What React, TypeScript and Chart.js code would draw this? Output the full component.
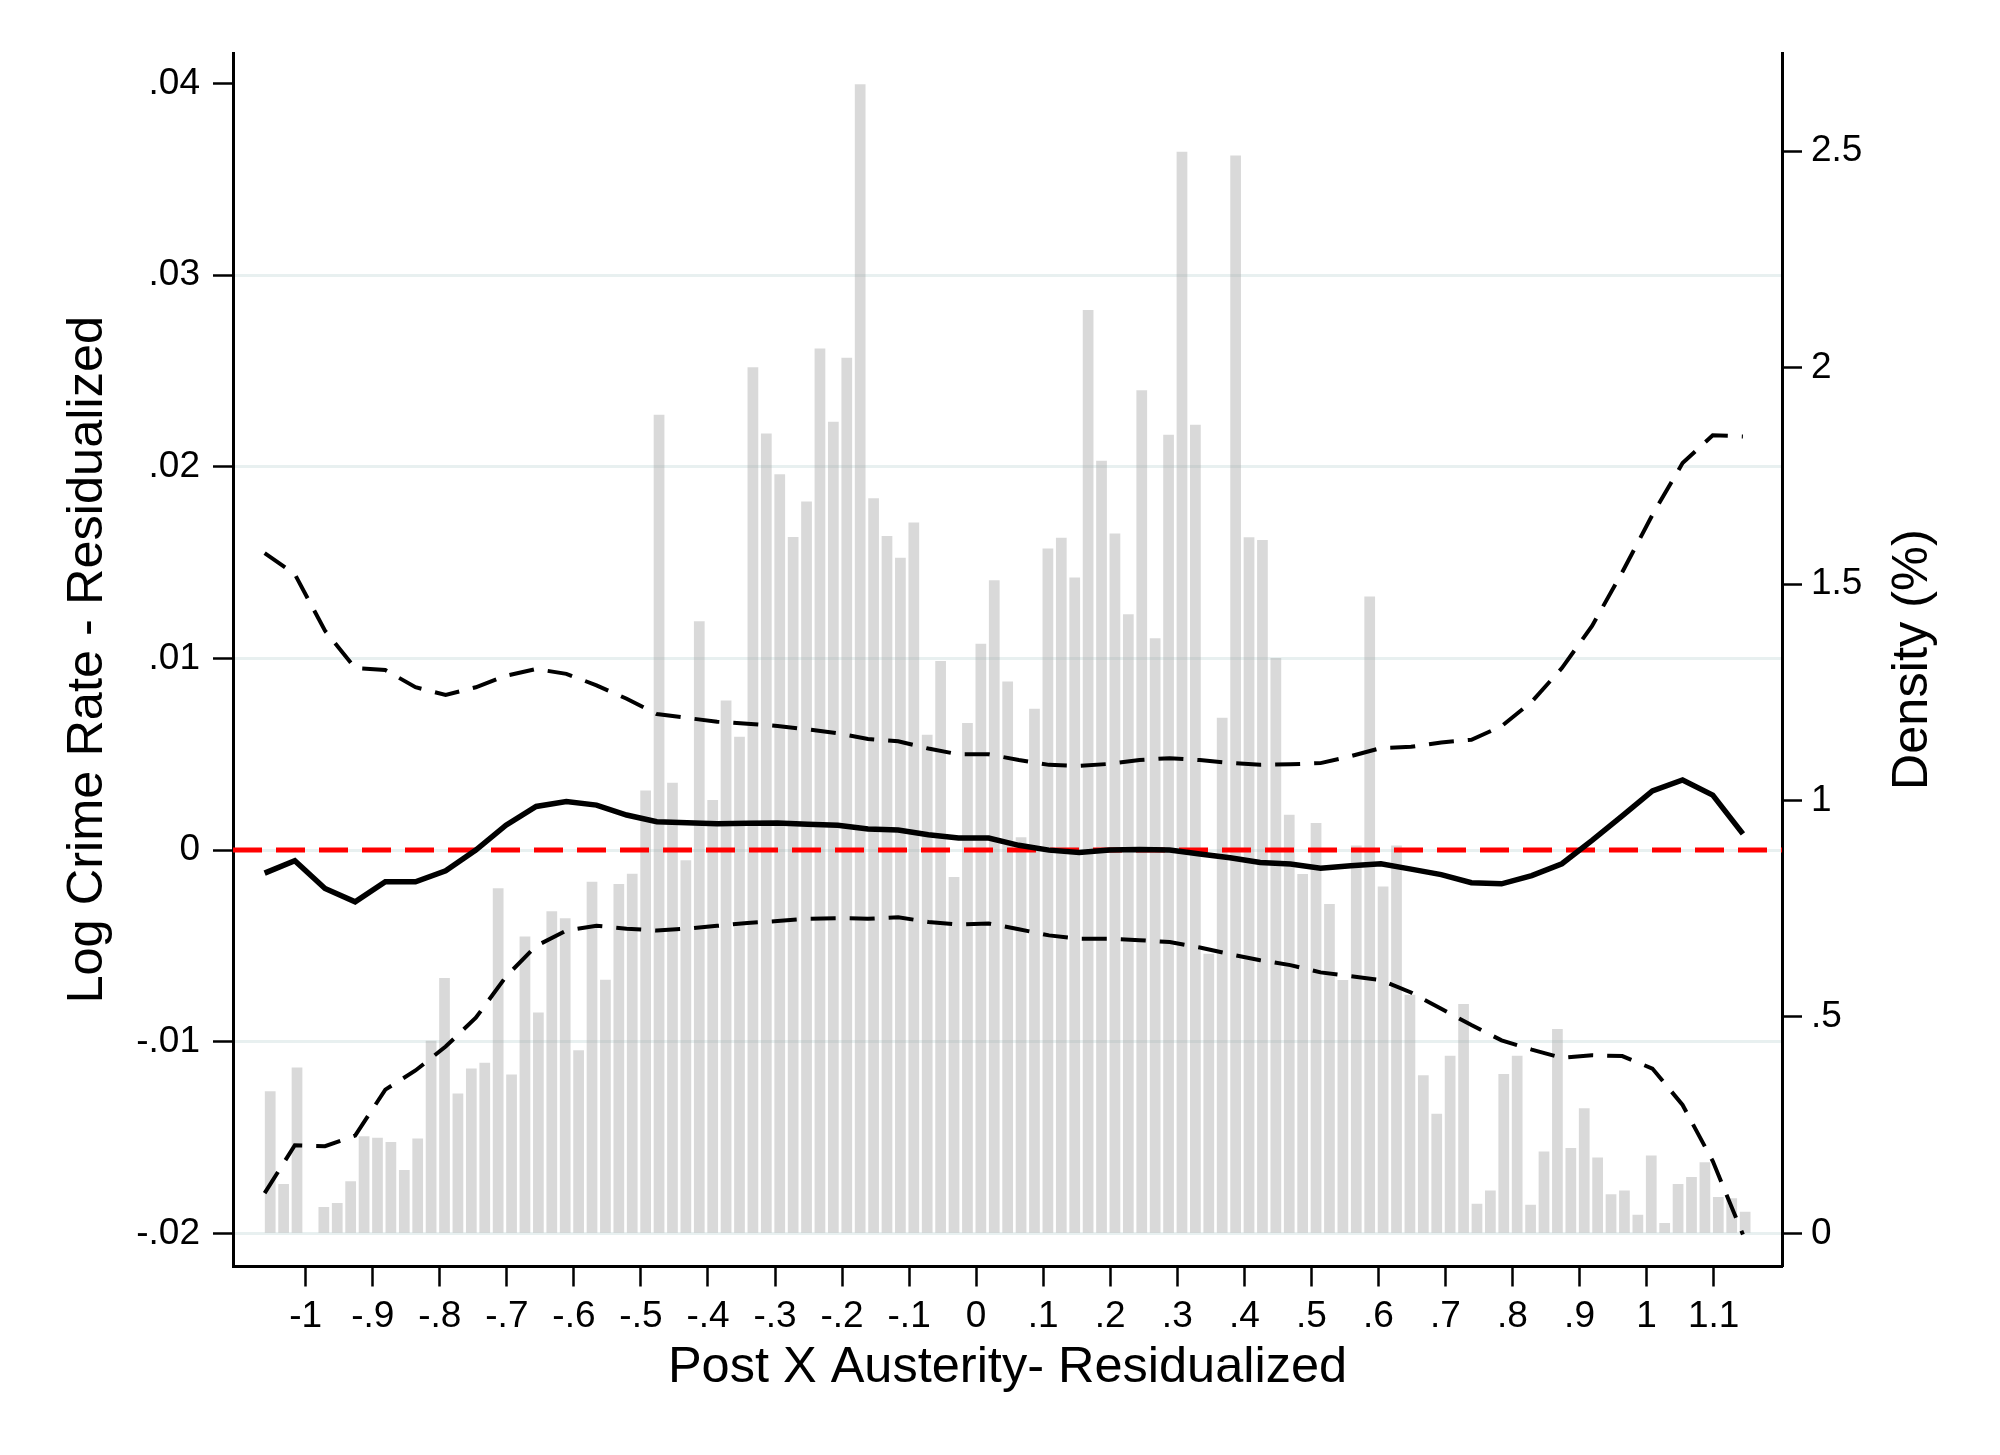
import { useEffect, useRef } from 'react';
import { Chart, registerables } from 'chart.js';

Chart.register(...registerables);

// histogram: bin midpoints start at binStart, every binWidth; heights are density (%)
const binStart = -1.053;
const binWidth = 0.02;
const densityPct = [
  0.328, 0.114, 0.383, 0, 0.061, 0.07, 0.12, 0.224, 0.221, 0.211,
  0.146, 0.219, 0.445, 0.59, 0.323, 0.381, 0.394, 0.797, 0.367, 0.686,
  0.51, 0.744, 0.728, 0.423, 0.812, 0.586, 0.807, 0.831, 1.023, 1.891,
  1.041, 0.862, 1.414, 1.001, 1.231, 1.147, 2.001, 1.848, 1.754, 1.609,
  1.691, 2.044, 1.875, 2.023, 2.655, 1.698, 1.611, 1.561, 1.642, 1.152,
  1.322, 0.823, 1.179, 1.362, 1.509, 1.275, 0.915, 1.212, 1.582, 1.607,
  1.515, 2.133, 1.785, 1.617, 1.43, 1.948, 1.375, 1.845, 2.499, 1.868,
  0.646, 1.191, 2.49, 1.608, 1.602, 1.329, 0.967, 0.83, 0.948, 0.761,
  0.585, 0.896, 1.471, 0.801, 0.896, 0.551, 0.365, 0.276, 0.41, 0.53,
  0.068, 0.099, 0.368, 0.41, 0.066, 0.189, 0.472, 0.197, 0.289, 0.175,
  0.09, 0.099, 0.043, 0.18, 0.024, 0.114, 0.13, 0.164, 0.084, 0.081,
  0.05,
];

// local polynomial fit, evaluated on a grid of 50 points
const fitStart = -1.0613;
const fitStep = 0.045;
const fitMid = [
  -0.0012, -0.00055, -0.002, -0.0027, -0.00165, -0.00165, -0.00108, 0, 0.0013, 0.00228,
  0.00253, 0.00235, 0.00183, 0.00148, 0.00143, 0.00138, 0.0014, 0.00142, 0.00135, 0.0013,
  0.0011, 0.00105, 0.0008, 0.00063, 0.00063, 0.00025, 0, -0.00013, 0, 0.00003,
  0, -0.0002, -0.0004, -0.00065, -0.00073, -0.00094, -0.00082, -0.00071, -0.00099, -0.00128,
  -0.0017, -0.00176, -0.00133, -0.00071, 0.00051, 0.00179, 0.00309, 0.00366, 0.00287, 0.00085,
];
const fitUpper = [
  0.0155, 0.0144, 0.01145, 0.0095, 0.0094, 0.0085, 0.0081, 0.0085, 0.0091, 0.00945,
  0.0092, 0.0086, 0.0079, 0.0071, 0.0069, 0.0067, 0.0066, 0.00648, 0.0063, 0.0061,
  0.0058, 0.00568, 0.0053, 0.005, 0.005, 0.0047, 0.00445, 0.0044, 0.0045, 0.0047,
  0.0048, 0.0047, 0.00455, 0.00445, 0.00448, 0.00454, 0.0049, 0.00533, 0.00539, 0.00562,
  0.00576, 0.00647, 0.00774, 0.0095, 0.0117, 0.0145, 0.0175, 0.0202, 0.02165, 0.02159,
];
const fitLower = [
  -0.0179, -0.0154, -0.01545, -0.0149, -0.0125, -0.0115, -0.01025, -0.00875, -0.0066, -0.005,
  -0.0042, -0.00395, -0.0041, -0.0042, -0.0041, -0.00395, -0.0038, -0.0037, -0.00358, -0.00355,
  -0.00358, -0.0035, -0.00375, -0.00388, -0.00383, -0.00413, -0.00445, -0.00463, -0.00463, -0.0047,
  -0.0048, -0.00508, -0.00543, -0.00575, -0.006, -0.00638, -0.00658, -0.00678, -0.00743, -0.00828,
  -0.00913, -0.00993, -0.01041, -0.01084, -0.0107, -0.01075, -0.0114, -0.0133, -0.01623, -0.02006,
];

const xTicks = [-1, -0.9, -0.8, -0.7, -0.6, -0.5, -0.4, -0.3, -0.2, -0.1, 0, 0.1, 0.2, 0.3, 0.4, 0.5, 0.6, 0.7, 0.8, 0.9, 1, 1.1];
const xTickLabels = ['-1', '-.9', '-.8', '-.7', '-.6', '-.5', '-.4', '-.3', '-.2', '-.1', '0', '.1', '.2', '.3', '.4', '.5', '.6', '.7', '.8', '.9', '1', '1.1'];
const yTicks = [-0.02, -0.01, 0, 0.01, 0.02, 0.03, 0.04];
const yTickLabels = ['-.02', '-.01', '0', '.01', '.02', '.03', '.04'];
const densTicks = [0, 0.5, 1, 1.5, 2, 2.5];
const densTickLabels = ['0', '.5', '1', '1.5', '2', '2.5'];

const FONT = '"Liberation Sans", Arial, Helvetica, sans-serif';

const labelFor = (ticks: number[], labels: string[]) => (v: any) => {
  const i = ticks.findIndex(t => Math.abs(t - Number(v)) < 1e-9);
  return i >= 0 ? labels[i] : '';
};

const axisTitles = {
  id: 'axisTitles',
  afterDraw(chart: any) {
    const ctx = chart.ctx;
    const area = chart.chartArea;
    const midY = (area.top + area.bottom) / 2;
    ctx.save();
    ctx.fillStyle = '#000';
    ctx.font = `50.5px ${FONT}`;
    ctx.textAlign = 'center';
    ctx.textBaseline = 'alphabetic';
    ctx.fillText('Post X Austerity- Residualized', (area.left + area.right) / 2, 1382);
    ctx.save();
    ctx.translate(102, midY);
    ctx.rotate(-Math.PI / 2);
    ctx.fillText('Log Crime Rate - Residualized', 0, 0);
    ctx.restore();
    ctx.save();
    ctx.translate(1927, midY);
    ctx.rotate(-Math.PI / 2);
    ctx.fillText('Density (%)', 0, 0);
    ctx.restore();
    ctx.restore();
  },
};

const App = () => {
  const canvasRef = useRef<HTMLCanvasElement>(null);
  const chartRef = useRef<any>(null);

  useEffect(() => {
    if (!canvasRef.current) return;
    if (chartRef.current) chartRef.current.destroy();

    const fitX = (i: number) => fitStart + i * fitStep;
    const tickFont = { family: FONT, size: 37 };

    chartRef.current = new Chart(canvasRef.current, {
      type: 'bar',
      data: {
        datasets: [
          {
            type: 'bar',
            data: densityPct.map((v, k) => ({ x: binStart + k * binWidth, y: v })),
            yAxisID: 'y2',
            backgroundColor: 'rgba(160,160,160,0.4)',
            borderWidth: 0,
            barPercentage: 0.8,
            categoryPercentage: 1,
            order: 10,
          },
          {
            type: 'line',
            data: [{ x: -1.1085, y: 0 }, { x: 1.202, y: 0 }],
            yAxisID: 'y',
            borderColor: '#ff0000',
            borderWidth: 5,
            borderDash: [29, 14],
            pointRadius: 0,
            order: 5,
          },
          {
            type: 'line',
            data: fitUpper.map((v, i) => ({ x: fitX(i), y: v })),
            yAxisID: 'y',
            borderColor: '#000',
            borderWidth: 4,
            borderDash: [25, 14],
            pointRadius: 0,
            order: 2,
          },
          {
            type: 'line',
            data: fitLower.map((v, i) => ({ x: fitX(i), y: v })),
            yAxisID: 'y',
            borderColor: '#000',
            borderWidth: 4,
            borderDash: [25, 14],
            pointRadius: 0,
            order: 2,
          },
          {
            type: 'line',
            data: fitMid.map((v, i) => ({ x: fitX(i), y: v })),
            yAxisID: 'y',
            borderColor: '#000',
            borderWidth: 5.5,
            pointRadius: 0,
            order: 1,
          },
        ],
      },
      options: {
        responsive: false,
        animation: false,
        devicePixelRatio: 1,
        layout: { padding: { top: 53, left: 0, right: 0, bottom: 0 } },
        plugins: {
          legend: { display: false },
          tooltip: { enabled: false },
        },
        scales: {
          x: {
            type: 'linear',
            offset: false,
            min: -1.1085,
            max: 1.202,
            afterBuildTicks: (scale: any) => { scale.ticks = xTicks.map(v => ({ value: v })); },
            afterFit: (scale: any) => { scale.height = 188.5; },
            grid: { offset: false, drawOnChartArea: false, tickColor: '#000', tickWidth: 2.5, tickLength: 20 },
            border: { display: true, color: '#000', width: 3 },
            ticks: {
              autoSkip: false,
              maxRotation: 0,
              color: '#000',
              font: tickFont,
              padding: 8,
              callback: labelFor(xTicks, xTickLabels),
            },
          },
          y: {
            position: 'left',
            min: -0.02173,
            max: 0.0416,
            afterBuildTicks: (scale: any) => { scale.ticks = yTicks.map(v => ({ value: v })); },
            afterFit: (scale: any) => { scale.width = 233; },
            grid: {
              color: (c: any) => (c.tick && Math.abs(c.tick.value - 0.04) < 1e-9 ? 'rgba(0,0,0,0)' : '#e8f0f0'),
              lineWidth: 3,
              tickColor: '#000',
              tickWidth: 2.5,
              tickLength: 20,
            },
            border: { display: true, color: '#000', width: 3 },
            ticks: { color: '#000', font: tickFont, padding: 13, callback: labelFor(yTicks, yTickLabels) },
          },
          y2: {
            position: 'right',
            min: -0.0767,
            max: 2.727,
            afterBuildTicks: (scale: any) => { scale.ticks = densTicks.map(v => ({ value: v })); },
            afterFit: (scale: any) => { scale.width = 218; },
            grid: { drawOnChartArea: false, tickColor: '#000', tickWidth: 2.5, tickLength: 20 },
            border: { display: true, color: '#000', width: 3 },
            ticks: { color: '#000', font: tickFont, padding: 9, callback: labelFor(densTicks, densTickLabels) },
          },
        },
      },
      plugins: [axisTitles],
    } as any);

    return () => { if (chartRef.current) chartRef.current.destroy(); };
  }, []);

  return (
    <div style={{ position: 'fixed', left: 0, top: 0, width: 2000, height: 1455, background: '#fff' }}>
      <canvas ref={canvasRef} width={2000} height={1455} style={{ width: 2000, height: 1455 }}></canvas>
    </div>
  );
};

export default App;
